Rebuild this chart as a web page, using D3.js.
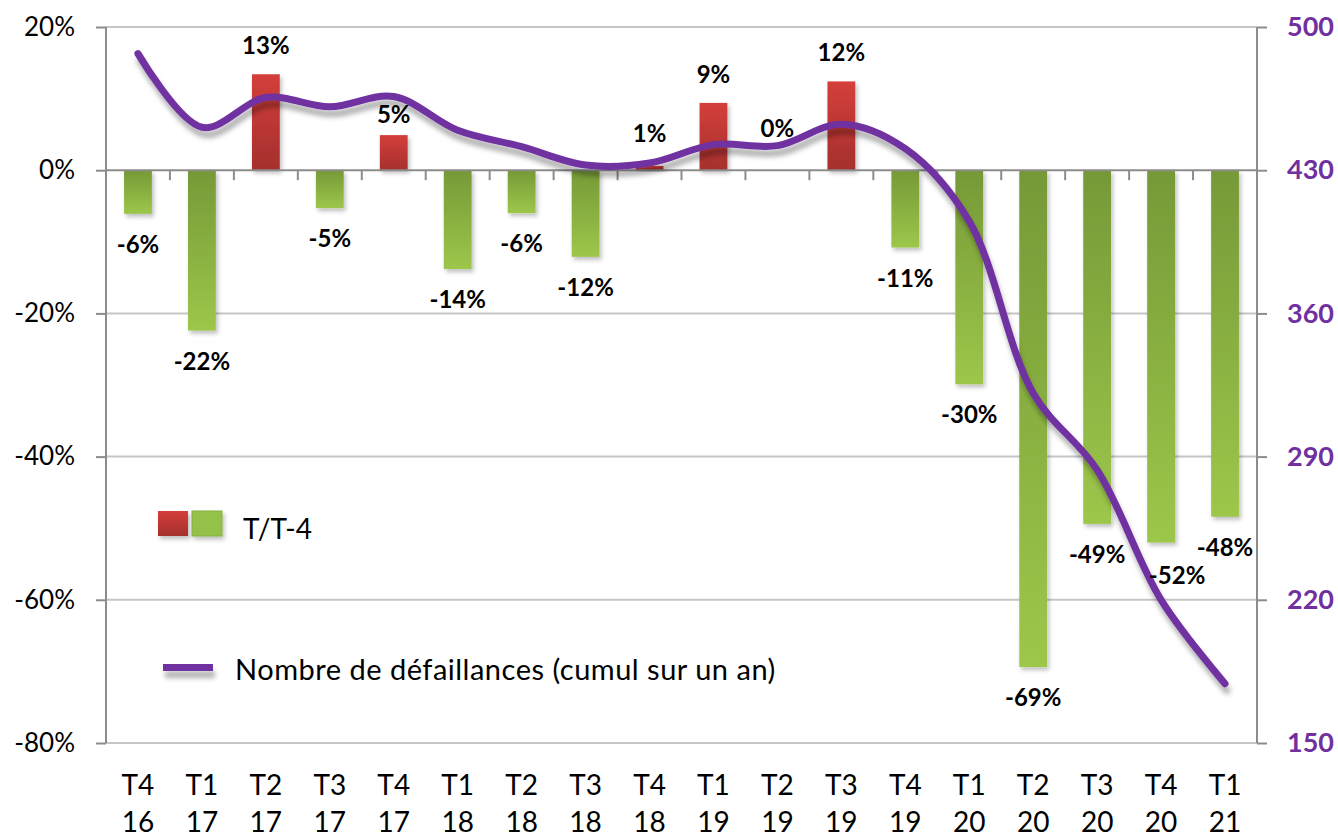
<!DOCTYPE html>
<html>
<head>
<meta charset="utf-8">
<script src="https://cdn.jsdelivr.net/npm/d3@7"></script>
<style>
  body { margin: 0; background: #fff; }
  text { font-family: Lato, "Open Sans", sans-serif; }
</style>
</head>
<body>
<div id="chart"></div>
<script>
// quarters (two lines per tick label)
var quarters = ["T4","T1","T2","T3","T4","T1","T2","T3","T4","T1","T2","T3","T4","T1","T2","T3","T4","T1"];
var years    = ["16","17","17","17","17","18","18","18","18","19","19","19","19","20","20","20","20","21"];

// T/T-4 change (bars, left axis)
var change = [-0.061, -0.224, 0.134, -0.053, 0.049, -0.138, -0.060, -0.121, 0.006, 0.094,
              0.000, 0.124, -0.108, -0.299, -0.694, -0.494, -0.520, -0.484];

// nombre de défaillances, cumul sur un an (line, right axis)
var failures = [487, 451, 465.5, 461, 466, 449.5, 441.5, 432.5, 433.5, 442.5,
                442, 452.5, 440.5, 405, 321, 283.5, 220, 179];

var leftTicks  = [0.2, 0, -0.2, -0.4, -0.6, -0.8];
var rightTicks = [500, 430, 360, 290, 220, 150];

var W = 1338, H = 837;
var margin = {top: 27, right: 81, bottom: 94, left: 106};
var width = W - margin.left - margin.right,
    height = H - margin.top - margin.bottom;

var cats = quarters.map(function(q, i) { return i; });

var x = d3.scaleBand().domain(cats).range([0, width]).paddingInner(0.565).paddingOuter(0.2825);
var y = d3.scaleLinear().domain([-0.8, 0.2]).range([height, 0]);
var y2 = d3.scaleLinear().domain([150, 500]).range([height, 0]);

var pct = function(d) { return d3.format(".0%")(d).replace("−", "-"); };

var svg = d3.select("#chart").append("svg")
    .attr("width", W).attr("height", H);

var defs = svg.append("defs");

// bar gradients
var gGreen = defs.append("linearGradient").attr("id", "gGreen")
    .attr("x1", 0).attr("y1", 0).attr("x2", 0).attr("y2", 1);
gGreen.append("stop").attr("offset", "0%").attr("stop-color", "#769937");
gGreen.append("stop").attr("offset", "100%").attr("stop-color", "#9cc74a");

var gRed = defs.append("linearGradient").attr("id", "gRed")
    .attr("x1", 0).attr("y1", 0).attr("x2", 0).attr("y2", 1);
gRed.append("stop").attr("offset", "0%").attr("stop-color", "#d43f3b");
gRed.append("stop").attr("offset", "100%").attr("stop-color", "#a52f2d");

var fBar = defs.append("filter").attr("id", "barShadow")
    .attr("x", "-30%").attr("y", "-30%").attr("width", "160%").attr("height", "160%");
fBar.append("feDropShadow").attr("dx", 2).attr("dy", 3).attr("stdDeviation", 2)
    .attr("flood-color", "#000").attr("flood-opacity", 0.25);

// shadow in user space so flat shapes keep it too
var fLine = defs.append("filter").attr("id", "lineShadow")
    .attr("filterUnits", "userSpaceOnUse")
    .attr("x", 0).attr("y", 0).attr("width", W).attr("height", H);
fLine.append("feDropShadow").attr("dx", 2).attr("dy", 7).attr("stdDeviation", 2.5)
    .attr("flood-color", "#000").attr("flood-opacity", 0.3);

var g = svg.append("g")
    .attr("transform", "translate(" + margin.left + "," + margin.top + ")");

// gridlines
g.selectAll(".grid").data(leftTicks.filter(function(d) { return d !== 0; }))
  .enter().append("line")
    .attr("x1", 0).attr("x2", width)
    .attr("y1", function(d) { return y(d); }).attr("y2", function(d) { return y(d); })
    .attr("stroke", "#c6c6c6").attr("stroke-width", 2);

// left axis
var yAxis = d3.axisLeft(y).tickValues(leftTicks).tickSize(10).tickPadding(21);
var ya = g.append("g").call(yAxis);
ya.select(".domain").attr("stroke", "#8c8c8c").attr("stroke-width", 2).attr("d", "M0,0V" + height);
ya.selectAll(".tick line").attr("stroke", "#8c8c8c").attr("stroke-width", 2);
ya.selectAll(".tick text").attr("font-size", 26).attr("fill", "#000").text(pct);

// right axis
var y2Axis = d3.axisRight(y2).tickValues(rightTicks).tickSize(10).tickPadding(20);
var ra = g.append("g").attr("transform", "translate(" + width + ",0)").call(y2Axis);
ra.select(".domain").attr("stroke", "#8c8c8c").attr("stroke-width", 2).attr("d", "M0,0V" + height);
ra.selectAll(".tick line").attr("stroke", "#8c8c8c").attr("stroke-width", 2);
ra.selectAll(".tick text").attr("font-size", 27).attr("font-weight", "bold").attr("fill", "#7030a0");

// bars
g.selectAll(".bar").data(change).enter().append("rect")
    .attr("class", "bar")
    .attr("x", function(d, i) { return x(i); })
    .attr("width", x.bandwidth())
    .attr("y", function(d) { return y(Math.max(0, d)); })
    .attr("height", function(d) { return Math.abs(y(d) - y(0)); })
    .attr("fill", function(d) { return d > 0 ? "url(#gRed)" : "url(#gGreen)"; })
    .attr("filter", "url(#barShadow)");

// zero line with category ticks
g.append("line").attr("x1", 0).attr("x2", width)
    .attr("y1", y(0)).attr("y2", y(0))
    .attr("stroke", "#8c8c8c").attr("stroke-width", 2);
var step = x.step();
g.selectAll(".ztick").data(d3.range(1, cats.length)).enter().append("line")
    .attr("x1", function(d) { return d * step; }).attr("x2", function(d) { return d * step; })
    .attr("y1", y(0)).attr("y2", y(0) + 10)
    .attr("stroke", "#8c8c8c").attr("stroke-width", 2);

// line
var line = d3.line()
    .x(function(d, i) { return x(i) + x.bandwidth() / 2; })
    .y(function(d) { return y2(d); })
    .curve(d3.curveCatmullRom.alpha(0.5));

g.append("path").datum(failures)
    .attr("d", line)
    .attr("fill", "none")
    .attr("stroke", "#7030a0")
    .attr("stroke-width", 7)
    .attr("stroke-linecap", "round")
    .attr("filter", "url(#lineShadow)");

// bar labels
var nudge = {4: [0, 8], 8: [0, -4], 10: [0, -13], 16: [16, 2]};
g.selectAll(".lbl").data(change).enter().append("text")
    .attr("text-anchor", "middle")
    .attr("font-size", 24).attr("font-weight", "bold").attr("fill", "#000")
    .attr("x", function(d, i) { return x(i) + x.bandwidth() / 2 + (nudge[i] ? nudge[i][0] : 0); })
    .attr("y", function(d, i) {
      var base = d >= 0 ? y(d) - 20 : y(d) + 39;
      return base + (nudge[i] ? nudge[i][1] : 0);
    })
    .text(pct);

// x labels
var xl = g.selectAll(".xl").data(cats).enter().append("text")
    .attr("text-anchor", "middle").attr("font-size", 28).attr("fill", "#000")
    .attr("x", function(i) { return x(i) + x.bandwidth() / 2; });
xl.append("tspan").attr("x", function(i) { return x(i) + x.bandwidth() / 2; })
    .attr("y", height + 52).text(function(i) { return quarters[i]; });
xl.append("tspan").attr("x", function(i) { return x(i) + x.bandwidth() / 2; })
    .attr("y", height + 89).text(function(i) { return years[i]; });

// legend
var lg = svg.append("g");
lg.append("rect").attr("x", 158).attr("y", 511).attr("width", 30).attr("height", 25)
    .attr("fill", "url(#gRed)").attr("filter", "url(#barShadow)");
lg.append("rect").attr("x", 192).attr("y", 511).attr("width", 30).attr("height", 25)
    .attr("fill", "#94c146").attr("stroke", "#86b03e").attr("filter", "url(#barShadow)");
lg.append("text").attr("x", 243).attr("y", 539).attr("font-size", 28).text("T/T-4");

lg.append("rect").attr("x", 163).attr("y", 664).attr("width", 50).attr("height", 7)
    .attr("fill", "#7030a0").attr("filter", "url(#lineShadow)");
lg.append("text").attr("x", 235).attr("y", 680).attr("font-size", 29)
    .attr("letter-spacing", 0.5)
    .text("Nombre de défaillances (cumul sur un an)");
</script>
</body>
</html>
